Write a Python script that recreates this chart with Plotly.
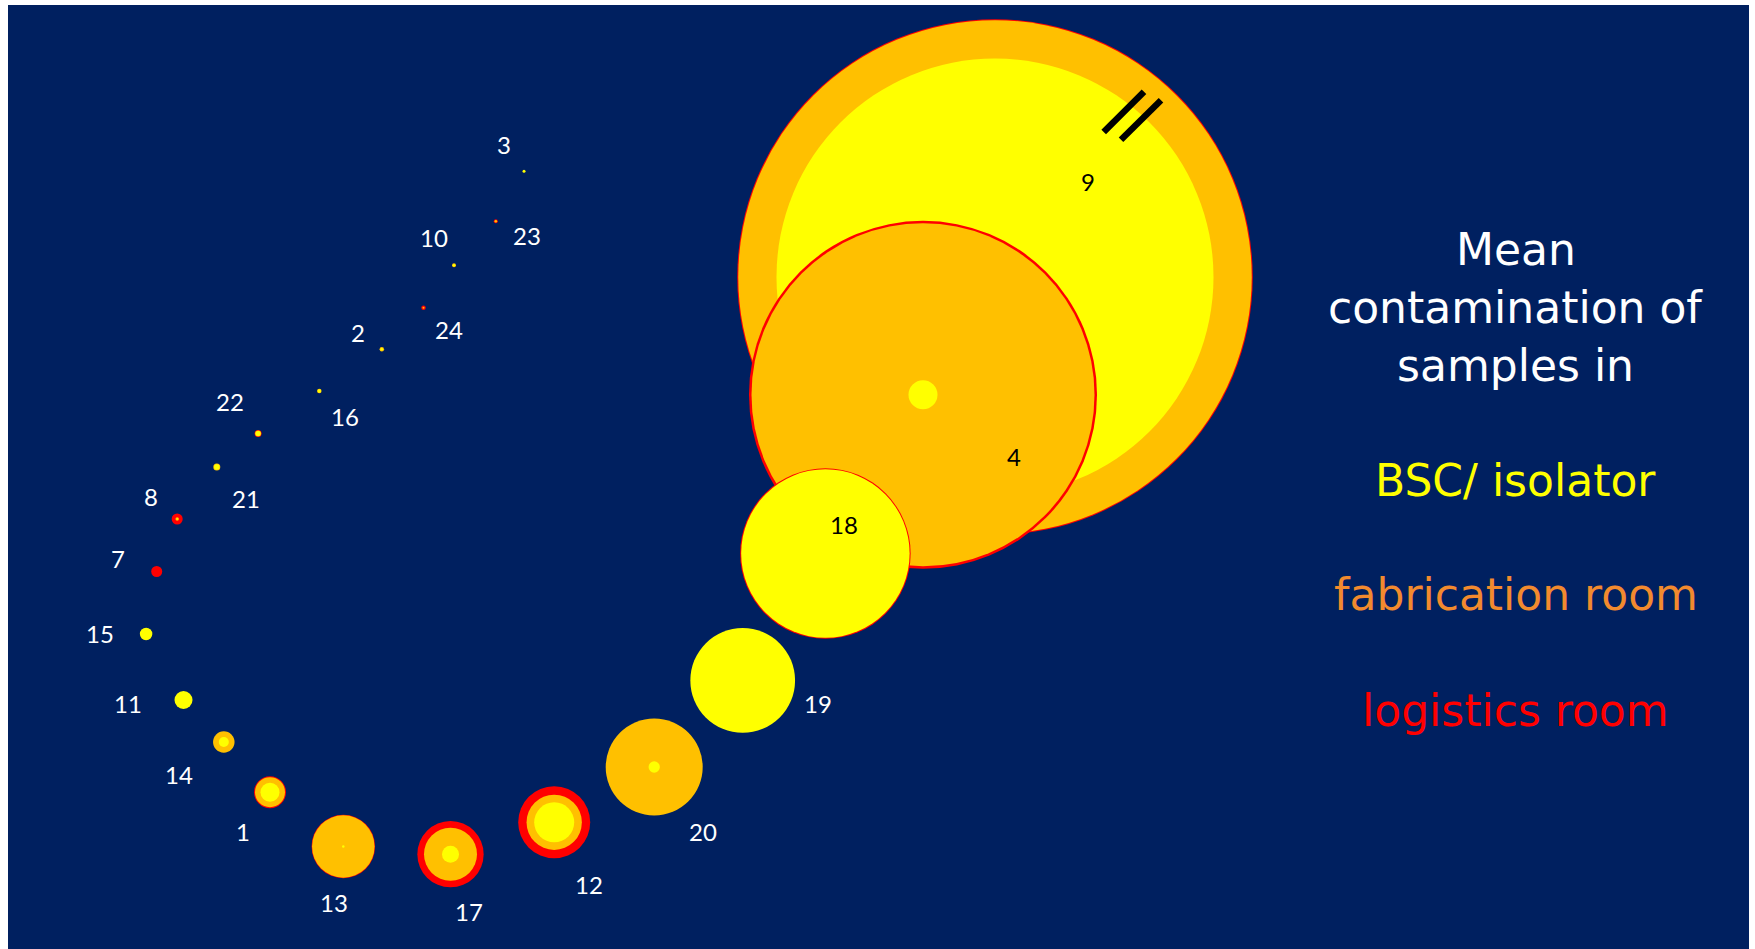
import plotly.graph_objects as go

# ---- data -----------------------------------------------------------------
samples = ["3", "23", "10", "24", "2", "16", "22", "21", "8", "7", "15", "11",
           "14", "1", "13", "17", "12", "20", "19", "18", "4", "9"]
# bubble centres (chart units, y grows downward)
pos_x = [524, 495.8, 454, 423.5, 381.8, 319.3, 258.1, 216.8, 177.2, 156.7, 146.1, 183.5,
         223.8, 270, 343.3, 450.5, 554.2, 654.2, 742.7, 825.4, 923, 995]
pos_y = [171.3, 221.2, 265.3, 307.7, 349.3, 391, 433.4, 467.1, 519, 571.5, 634, 700,
         742, 792.2, 846.5, 854.2, 822.3, 767, 680.4, 553.5, 394.8, 277]
# relative bubble size (diameter) of mean contamination per area
logistics = [0, 4, 0, 4.5, 0, 0, 7, 0, 11, 11, 0, 0,
             0, 32, 63.5, 66.3, 72, 0, 0, 170.5, 348, 515.5]
fabrication = [0, 2.5, 4, 2, 4.5, 4.5, 6, 7, 3.5, 0, 0, 0,
               21.5, 30, 62.5, 53, 55.3, 97, 0, 0, 343, 513.5]
bsc_isolator = [3, 0, 2.5, 0, 2.5, 3.5, 5, 5.5, 1.5, 0, 12.5, 18,
                10, 19, 2.5, 17, 40, 11.3, 104.7, 168.5, 29, 437]

# ---- style / layout ---------------------------------------------------------
NAVY = "#002060"
C_BSC, C_FAB, C_LOG = "#FFFF00", "#FFC000", "#FF0000"
label_pos = {  # label centre positions
    "3": (503.6, 146.7), "23": (527, 237.7), "10": (433.6, 239.3), "24": (449, 331),
    "2": (358.3, 334), "16": (345, 418.5), "22": (230.3, 403.2), "21": (246, 500.8),
    "8": (150.5, 498), "7": (118.4, 560), "15": (100, 635.3), "11": (128, 705.7),
    "14": (179, 776.5), "1": (243.4, 833.5), "13": (334, 904.2), "17": (469.4, 913.6),
    "12": (589.3, 886), "20": (703, 833), "19": (818.2, 705.5), "18": (844.3, 526),
    "4": (1013.8, 458), "9": (1088.4, 183),
}
LABEL_NUDGE = -2
dark_labels = {"9", "4", "18"}

# draw biggest samples first, each sample: logistics (back), fabrication, BSC (front)
order = sorted(range(len(samples)),
               key=lambda i: -max(logistics[i], fabrication[i], bsc_isolator[i]))
px, py, ps, pc = [], [], [], []
for i in order:
    for vals, col in ((logistics, C_LOG), (fabrication, C_FAB), (bsc_isolator, C_BSC)):
        if vals[i] > 0:
            px.append(pos_x[i]); py.append(pos_y[i]); ps.append(vals[i]); pc.append(col)

fig = go.Figure()
fig.add_trace(go.Scatter(
    x=px, y=py, mode="markers", hoverinfo="skip", showlegend=False,
    marker=dict(size=ps, sizemode="diameter", sizeref=1, color=pc,
                line=dict(width=0), opacity=1),
    cliponaxis=False,
))

annotations = []
for s in samples:
    lx, ly = label_pos[s]
    annotations.append(dict(
        x=lx, y=ly + LABEL_NUDGE, xref="x", yref="y", text=s, showarrow=False,
        xanchor="center", yanchor="middle",
        font=dict(family="Lato", size=24, color="black" if s in dark_labels else "white"),
    ))

side_text = [
    ("Mean", 249.6, "white"),
    ("contamination of", 307.0, "white"),
    ("samples in", 365.2, "white"),
    ("BSC/ isolator", 480.0, C_BSC),
    ("fabrication room", 594.0, "#F28A2E"),
    ("logistics room", 710.8, C_LOG),
]
for txt, yy, col in side_text:
    annotations.append(dict(
        x=1515.8, y=yy, xref="x", yref="y", text=txt, showarrow=False,
        xanchor="center", yanchor="middle",
        font=dict(family="DejaVu Sans", size=44, color=col),
    ))

# axis-break mark on bubble 9
shapes = [
    dict(type="line", xref="x", yref="y", x0=1103.7, y0=132, x1=1144, y1=91.8,
         line=dict(color="black", width=6.5)),
    dict(type="line", xref="x", yref="y", x0=1121, y0=139.7, x1=1161, y1=100.3,
         line=dict(color="black", width=6.5)),
]

fig.update_layout(
    width=1755, height=949,
    margin=dict(l=8, r=6, t=5, b=0, pad=0),
    paper_bgcolor="white", plot_bgcolor=NAVY,
    xaxis=dict(range=[8, 1749], visible=False, showgrid=False, zeroline=False, fixedrange=True),
    yaxis=dict(range=[949, 5], visible=False, showgrid=False, zeroline=False, fixedrange=True),
    annotations=annotations, shapes=shapes,
)

fig.write_html("out.html", config={"displayModeBar": False},
               post_script="document.body.style.margin='0px';document.body.style.overflow='hidden';")
